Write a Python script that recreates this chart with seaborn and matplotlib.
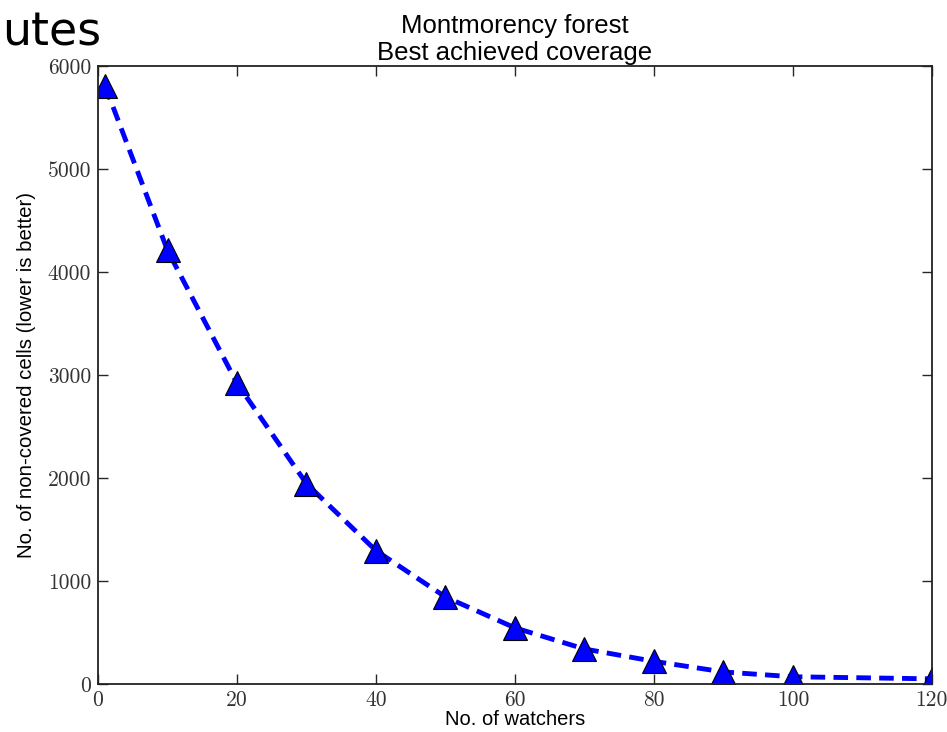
import numpy as np
import pandas as pd
import matplotlib
matplotlib.use("Agg")
import matplotlib.pyplot as plt
import seaborn as sns

# values
watchers = [1, 10, 20, 30, 40, 50, 60, 70, 80, 90, 100, 120]
uncovered = [5810, 4210, 2920, 1945, 1295, 845, 545, 340, 220, 117, 70, 50]

x_ticks = [0, 20, 40, 60, 80, 100, 120]
y_ticks = [0, 1000, 2000, 3000, 4000, 5000, 6000]

sns.set_style("ticks")
plt.rcParams['font.family'] = ['Liberation Sans', 'DejaVu Sans']
plt.rcParams['xtick.direction'] = 'in'
plt.rcParams['ytick.direction'] = 'in'
plt.rcParams['xtick.top'] = True
plt.rcParams['ytick.right'] = True
plt.rcParams['axes.edgecolor'] = '#222222'
plt.rcParams['text.color'] = 'black'
plt.rcParams['axes.labelcolor'] = 'black'

df = pd.DataFrame({"watchers": watchers, "uncovered": uncovered})

fig = plt.figure(figsize=(9.47, 7.32), dpi=100)
ax = fig.add_axes([0.1035, 0.0656, 0.8805, 0.8442])

sns.lineplot(data=df, x="watchers", y="uncovered", ax=ax, color="blue",
             linestyle="--", linewidth=3.5, marker="^", markersize=17,
             markeredgecolor="black", markeredgewidth=0.8,
             dashes=False)
ax.lines[0].set_dashes([3, 1.7])

ax.set_xlim(0, 120)
ax.set_ylim(0, 6000)
ax.set_xticks(x_ticks)
ax.set_yticks(y_ticks)
for lab in ax.get_xticklabels() + ax.get_yticklabels():
    lab.set_fontfamily('cmr10')
    lab.set_fontsize(15.5)
    lab.set_color('#333333')
ax.tick_params(length=7, width=1, pad=5)
for s in ax.spines.values():
    s.set_linewidth(1.3)

ax.set_xlabel("No. of watchers", fontsize=14.5, labelpad=0)
ax.set_ylabel("No. of non-covered cells (lower is better)", fontsize=14.7, labelpad=8)
ax.set_title("Montmorency forest\nBest achieved coverage", fontsize=18.5,
             linespacing=1.2, pad=4)

# slide text cut off at the top left
fig.text(2 / 947, 1 - 45 / 732, "utes", fontsize=33, ha="left",
         va="baseline", family="DejaVu Sans", color="black")

fig.savefig("out.png", dpi=100)
